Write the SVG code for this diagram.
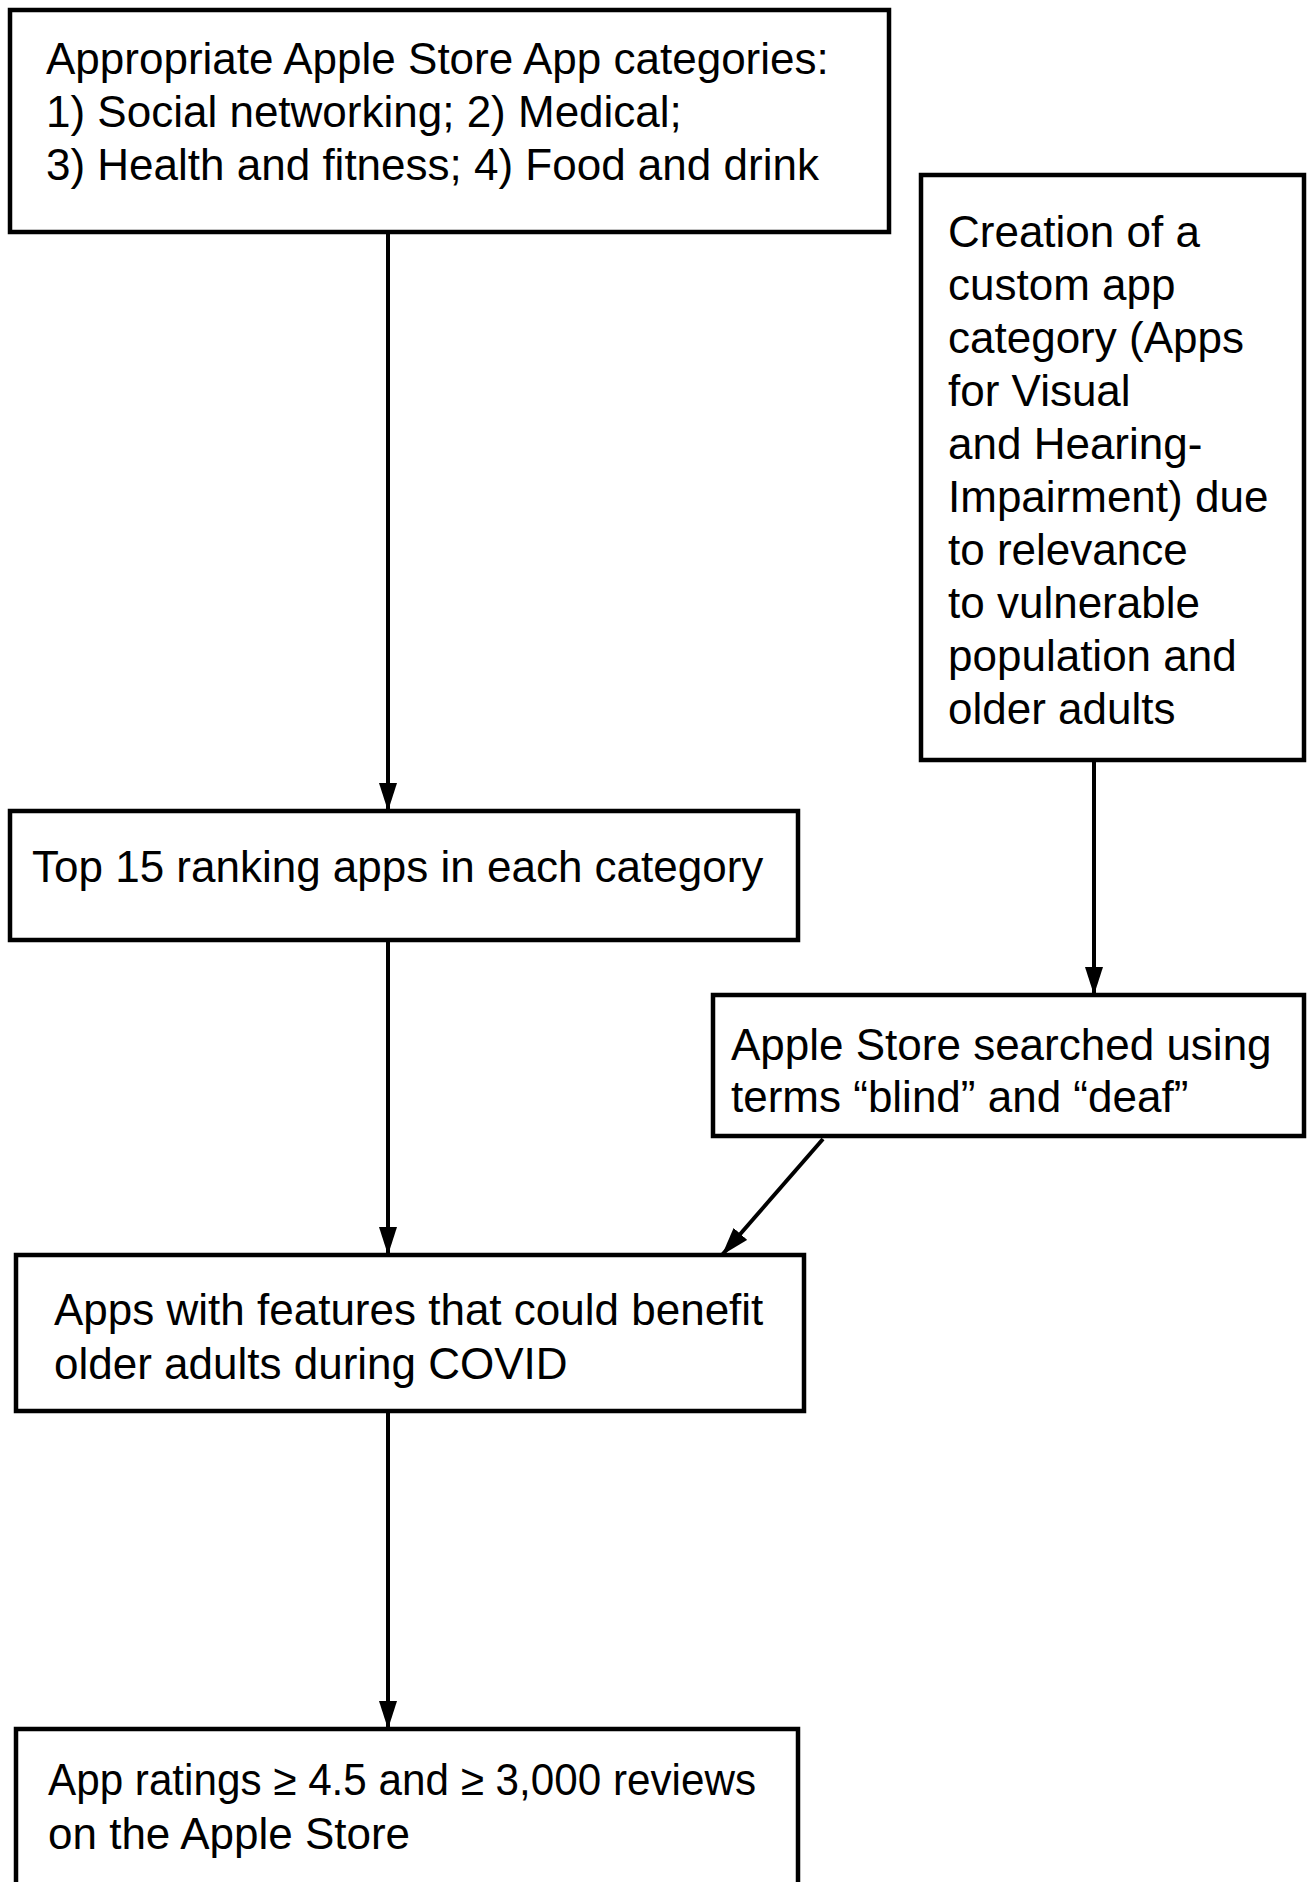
<svg xmlns="http://www.w3.org/2000/svg" width="1315" height="1882" viewBox="0 0 1315 1882">
<style>
.box{fill:#fff;stroke:#000;stroke-width:4.5}
.t{font-family:"Liberation Sans",Arial,sans-serif;font-size:44px;fill:#000}
.c{stroke:#000;stroke-width:4;fill:none}
</style>
<defs>
<marker id="arr" viewBox="0 0 28 18" refX="28" refY="9" markerWidth="28" markerHeight="18" orient="auto" markerUnits="userSpaceOnUse">
<path d="M0,0 L28,9 L0,18 z" fill="#000"/>
</marker>
</defs>
<rect width="1315" height="1882" fill="#fff"/>
<g id="connectors">
<line class="c" x1="388" y1="232" x2="388" y2="811" marker-end="url(#arr)"/>
<line class="c" x1="1094" y1="760" x2="1094" y2="995" marker-end="url(#arr)"/>
<line class="c" x1="388" y1="940" x2="388" y2="1255" marker-end="url(#arr)"/>
<line class="c" x1="823" y1="1139" x2="722" y2="1255" marker-end="url(#arr)"/>
<line class="c" x1="388" y1="1411" x2="388" y2="1729" marker-end="url(#arr)"/>
</g>
<g id="n1">
<rect class="box" x="10" y="10" width="879" height="222"/>
<text class="t" x="46" y="74">Appropriate Apple Store App categories:</text>
<text class="t" x="46" y="127">1) Social networking; 2) Medical;</text>
<text class="t" x="46" y="180">3) Health and fitness; 4) Food and drink</text>
</g>
<g id="n2">
<rect class="box" x="921" y="175" width="383" height="585"/>
<text class="t" x="948" y="247">Creation of a</text>
<text class="t" x="948" y="300">custom app</text>
<text class="t" x="948" y="353">category (Apps</text>
<text class="t" x="948" y="406">for Visual</text>
<text class="t" x="948" y="459">and Hearing-</text>
<text class="t" x="948" y="512">Impairment) due</text>
<text class="t" x="948" y="565">to relevance</text>
<text class="t" x="948" y="618">to vulnerable</text>
<text class="t" x="948" y="671">population and</text>
<text class="t" x="948" y="724">older adults</text>
</g>
<g id="n3">
<rect class="box" x="10" y="811" width="788" height="129"/>
<text class="t" x="32" y="882">Top 15 ranking apps in each category</text>
</g>
<g id="n4">
<rect class="box" x="713" y="995" width="591" height="141"/>
<text class="t" x="731" y="1060">Apple Store searched using</text>
<text class="t" x="731" y="1112">terms “blind” and “deaf”</text>
</g>
<g id="n5">
<rect class="box" x="16" y="1255" width="788" height="156"/>
<text class="t" x="54" y="1325">Apps with features that could benefit</text>
<text class="t" x="54" y="1379">older adults during COVID</text>
</g>
<g id="n6">
<rect class="box" x="16" y="1729" width="782" height="180"/>
<text class="t" x="48" y="1795" textLength="708" lengthAdjust="spacingAndGlyphs">App ratings ≥ 4.5 and ≥ 3,000 reviews</text>
<text class="t" x="48" y="1849">on the Apple Store</text>
</g>
</svg>
